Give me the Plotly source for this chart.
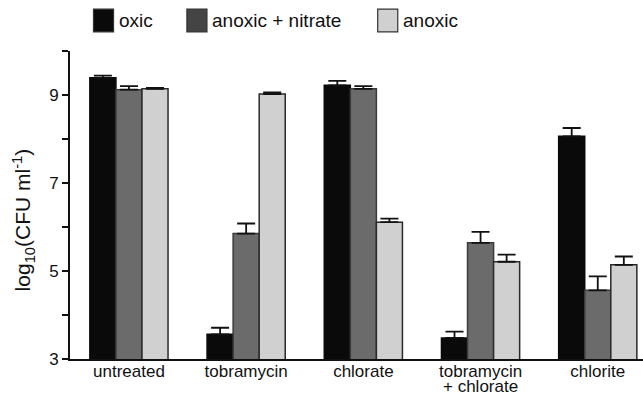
import plotly.graph_objects as go

categories = ["untreated", "tobramycin", "chlorate", "tobramycin<br>+ chlorate", "chlorite"]
series_names = ["oxic", "anoxic + nitrate", "anoxic"]
oxic = [9.39, 3.56, 9.22, 3.48, 8.06]
oxic_err = [0.05, 0.15, 0.10, 0.14, 0.19]
nitrate = [9.12, 5.85, 9.14, 5.64, 4.56]
nitrate_err = [0.08, 0.23, 0.06, 0.25, 0.32]
anoxic = [9.14, 9.02, 6.11, 5.21, 5.14]
anoxic_err = [0.02, 0.04, 0.08, 0.16, 0.19]
y_tick_vals = [3, 4, 5, 6, 7, 8, 9, 10]
y_tick_text = ["3", "", "5", "", "7", "", "9", ""]
y_title = "log<sub>10</sub>(CFU ml<sup>-1</sup>)"

values = [oxic, nitrate, anoxic]
errors = [oxic_err, nitrate_err, anoxic_err]
fill_colors = ["#0a0a0a", "#6b6b6b", "#d0d0d0"]
legend_colors = ["#0a0a0a", "#444444", "#d0d0d0"]
line_colors = ["#0a0a0a", "#3a3a3a", "#2a2a2a"]
FONT = "Liberation Sans, Arial, Helvetica, sans-serif"

x = list(range(len(categories)))
# first line of each category label on the axis; extra lines set tightly below
first_lines = [c.split("<br>")[0] for c in categories]
extra_lines = [(i, c.split("<br>")[1]) for i, c in enumerate(categories) if "<br>" in c]

fig = go.Figure()
for name, v, e, fc, lc in zip(series_names, values, errors, fill_colors, line_colors):
    fig.add_trace(go.Bar(
        x=x, y=v, name=name,
        marker=dict(color=fc, line=dict(color=lc, width=1.5)),
        error_y=dict(type="data", symmetric=False, array=e,
                     arrayminus=[0] * len(e), color="#111111",
                     thickness=1.8, width=9),
        showlegend=False,
    ))

for i, txt in extra_lines:
    fig.add_annotation(xref="x", yref="paper", x=i, y=0, yshift=-17,
                       text=txt, showarrow=False, xanchor="center",
                       yanchor="top", borderpad=0,
                       font=dict(family=FONT, size=17, color="#111111"))

# custom legend (large squares, as in the reference)
legend_x = [0.041, 0.204, 0.537]
for lx, name, col in zip(legend_x, series_names, legend_colors):
    fig.add_shape(type="rect", xref="paper", yref="paper",
                  x0=lx, x1=lx + 0.035, y0=1.062, y1=1.136,
                  fillcolor=col, line=dict(color="#333333", width=1.2))
    fig.add_annotation(xref="paper", yref="paper", x=lx + 0.041, y=1.10,
                       text=name, showarrow=False, xanchor="left",
                       yanchor="middle",
                       font=dict(family=FONT, size=19, color="#111111"))

# y-axis title as a rotated annotation for exact placement
fig.add_annotation(xref="paper", yref="paper", x=0, y=0.45, xshift=-47,
                   text=y_title, textangle=-90, showarrow=False,
                   xanchor="center", yanchor="middle",
                   font=dict(family=FONT, size=21, color="#111111"))

fig.update_layout(
    width=643, height=396,
    margin=dict(l=70, r=0, t=51, b=37),
    paper_bgcolor="white", plot_bgcolor="white",
    barmode="group", bargap=0.333, bargroupgap=0,
    font=dict(family=FONT, color="#111111"),
    xaxis=dict(
        tickvals=x, ticktext=first_lines, range=[-0.503, 4.386],
        showline=True, linecolor="#111111", linewidth=1.8,
        ticks="", showgrid=False, zeroline=False, automargin=False,
        ticklabelstandoff=-4,
        tickfont=dict(family=FONT, size=17, color="#111111"),
    ),
    yaxis=dict(
        range=[3, 10], tickvals=y_tick_vals, ticktext=y_tick_text,
        showline=True, linecolor="#111111", linewidth=1.8,
        ticks="outside", ticklen=6, tickwidth=1.5, tickcolor="#111111",
        showgrid=False, zeroline=False, automargin=False,
        tickfont=dict(family=FONT, size=17, color="#111111"),
    ),
)

fig.write_html("out.html")
